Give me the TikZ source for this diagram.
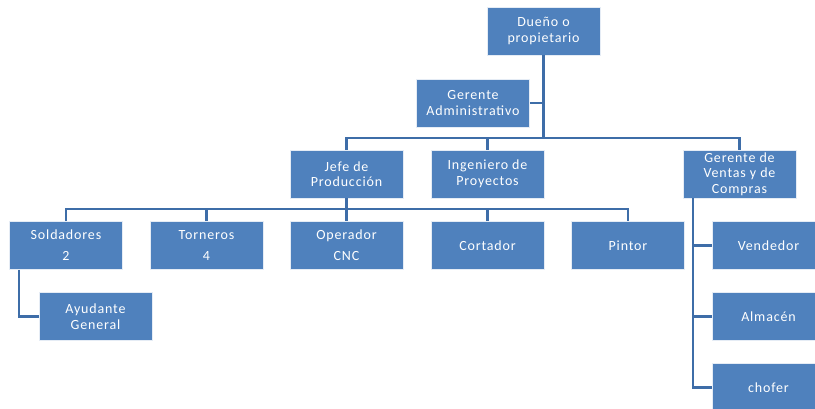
\documentclass[tikz,border=0pt]{standalone}
\usepackage{fontspec}
\setmainfont[LetterSpace=6]{Carlito}
\definecolor{boxblue}{HTML}{4F81BD}
\definecolor{lineblue}{HTML}{3E6DA8}
\begin{document}
\begin{tikzpicture}[x=0.75pt,y=-0.75pt,
  box/.style={fill=boxblue,draw=white!85!boxblue,line width=0.6pt,minimum width=84.75pt,minimum height=36pt,
    inner sep=1pt,text=white,align=center,font=\fontsize{10.5}{11.6}\selectfont},
  conn/.style={draw=lineblue,line width=1.7pt}]
\useasboundingbox (0,0) rectangle (815,409);
\clip (0,0) rectangle (815,409);
\node[box] (dueno) at (543.5,31) {Dueño o\\propietario};
\node[box] (admin) at (473,103) {Gerente\\Administrativo};
\node[box] (jefe) at (346.5,174) {Jefe de\\Producción};
\node[box] (ing) at (487.5,174) {Ingeniero de\\Proyectos};
\node[box] (gven) at (739.5,174) {Gerente de\\Ventas y de\\Compras};
\node[box] (sold) at (66,245.5) {Soldadores\\[4pt]2};
\node[box] (torn) at (206.5,245.5) {Torneros\\[4pt]4};
\node[box] (oper) at (346.5,245.5) {Operador\\[4pt]CNC};
\node[box] (cort) at (487.5,245.5) {Cortador};
\node[box] (pint) at (628,245.5) {Pintor};
\node[box] (ayud) at (95.5,316.5) {Ayudante\\General};
\node[box] (vend) at (768.5,245.5) {Vendedor};
\node[box] (alm) at (768.5,316.5) {Almacén};
\node[box] (chof) at (768.5,387.5) {chofer};
% top level
\coordinate (b1) at (543.5,138);
\draw[conn] (dueno.south) -- (b1);
\draw[conn] (admin.east) -- (admin.east -| dueno.south);
\draw[conn] (jefe.north) -- (jefe.north |- b1) -- (gven.north |- b1) -- (gven.north);
\draw[conn] (ing.north) -- (ing.north |- b1);
% production level
\coordinate (b2) at (346.5,209);
\draw[conn] (jefe.south) -- (oper.north);
\draw[conn] (sold.north) -- (sold.north |- b2) -- (pint.north |- b2) -- (pint.north);
\draw[conn] (torn.north) -- (torn.north |- b2);
\draw[conn] (cort.north) -- (cort.north |- b2);
% ayudante
\draw[conn] ([xshift=-35.25pt]sold.south) |- (ayud.west);
% ventas
\coordinate (vt) at ([xshift=-35pt]gven.south);
\draw[conn] (vt) |- (chof.west);
\draw[conn] (vend.west) -- (vend.west -| vt);
\draw[conn] (alm.west) -- (alm.west -| vt);
\end{tikzpicture}
\end{document}
